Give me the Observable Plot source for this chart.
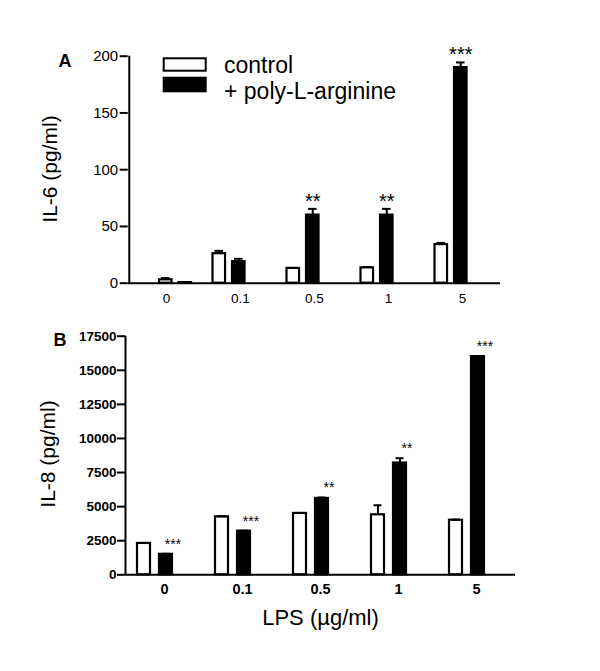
<!DOCTYPE html>
<html>
<head>
<meta charset="utf-8">
<script src="https://cdn.jsdelivr.net/npm/d3@7"></script>
<script src="https://cdn.jsdelivr.net/npm/@observablehq/plot@0.6"></script>
<style>
  body { margin: 0; background: #fff; }
  #fig { position: relative; width: 600px; height: 671px; background: #fff; overflow: hidden; }
  #fig > svg { position: absolute; left: 0; }
</style>
</head>
<body>
<div id="fig"></div>
<script>
// ---------- data ----------
const doses = ["0", "0.1", "0.5", "1", "5"];
const seriesNames = ["control", "+ poly-L-arginine"];

const il6Control    = [3, 26, 13, 13.5, 34];
const il6ControlErr = [1.5, 2.5, 0.5, 0.8, 1.5];
const il6Poly       = [0.5, 19, 60, 60, 190];
const il6PolyErr    = [0, 2.5, 5.5, 5.5, 4.5];
const il6Stars      = ["", "", "**", "**", "***"];
const il6Ticks      = [0, 50, 100, 150, 200];

const il8Control    = [2300, 4250, 4500, 4400, 4000];
const il8ControlErr = [40, 40, 40, 700, 50];
const il8Poly       = [1500, 3200, 5600, 8200, 16000];
const il8PolyErr    = [40, 40, 70, 350, 50];
const il8Stars      = ["***", "***", "**", "**", "***"];
const il8Ticks      = [0, 2500, 5000, 7500, 10000, 12500, 15000, 17500];

const titleA = "IL-6 (pg/ml)";
const titleB = "IL-8 (pg/ml)";
const titleX = "LPS (\u00b5g/ml)";

const FONT = '"Liberation Sans", Arial, Helvetica, sans-serif';

// ---------- panel builder ----------
function panel(cfg) {
  const rows = doses.flatMap((d, i) => [
    {dose: d, i, series: seriesNames[0], value: cfg.control[i], err: cfg.controlErr[i], star: ""},
    {dose: d, i, series: seriesNames[1], value: cfg.poly[i], err: cfg.polyErr[i], star: cfg.stars[i]}
  ]);
  const bw = (cfg.width - cfg.marginLeft - cfg.marginRight) / doses.length;
  const marks = [];
  for (const r of rows) {
    const isCtrl = r.series === seriesNames[0];
    const left = (isCtrl ? cfg.ctrlLeft : cfg.polyLeft) + (r.i === 0 ? cfg.firstShift : 0);
    const right = bw - left - cfg.barW;
    const center = left + cfg.barW / 2;
    marks.push(Plot.barY([r], {
      x: "dose", y: "value", insetLeft: left, insetRight: right,
      fill: isCtrl ? "white" : "black", stroke: "black", strokeWidth: 2.2
    }));
    if (r.err > 0) {
      marks.push(Plot.ruleX([r], {x: "dose", y1: "value", y2: d => d.value + d.err, dx: center - bw / 2, strokeWidth: 2}));
      marks.push(Plot.tickY([r], {x: "dose", y: d => d.value + d.err,
        insetLeft: center - cfg.capW / 2, insetRight: bw - center - cfg.capW / 2, strokeWidth: 2}));
    }
    if (r.star) {
      marks.push(Plot.text([r], {x: "dose", y: d => d.value + d.err, text: "star",
        dx: center - bw / 2 + cfg.starDx, dy: cfg.starDy, lineAnchor: "bottom",
        fontSize: cfg.starSize, fill: "black"}));
    }
  }
  return Plot.plot({
    width: cfg.width, height: cfg.height,
    marginLeft: cfg.marginLeft, marginRight: cfg.marginRight,
    marginTop: cfg.marginTop, marginBottom: cfg.marginBottom,
    style: {fontFamily: FONT, color: "black", background: "transparent", overflow: "visible"},
    x: {type: "band", domain: doses, padding: 0},
    y: {domain: [0, cfg.yMax], nice: false},
    marks: [
      ...marks,
      Plot.ruleY([0], {strokeWidth: 2}),
      Plot.ruleX([doses[0]], {dx: -bw / 2, strokeWidth: 2}),
      Plot.axisY({ticks: cfg.ticks, tickSize: 8, tickPadding: cfg.yPad, label: null,
        tickFormat: d => String(d), fontSize: cfg.yFont, fontWeight: cfg.weight, strokeWidth: 2}),
      Plot.axisX({tickSize: 0, tickPadding: cfg.xPad, label: null,
        fontSize: cfg.xFont, fontWeight: cfg.weight})
    ]
  });
}

const fig = document.getElementById("fig");

const plotA = panel({
  control: il6Control, controlErr: il6ControlErr, poly: il6Poly, polyErr: il6PolyErr,
  stars: il6Stars, ticks: il6Ticks, yMax: 200,
  width: 600, height: 320, marginLeft: 127.7, marginRight: 100, marginTop: 55.7, marginBottom: 37.3,
  ctrlLeft: 9.5, polyLeft: 29, barW: 13, firstShift: 20.5, capW: 9,
  starDx: 0, starDy: -1, starSize: 20,
  yFont: 15, xFont: 13.5, weight: "normal", yPad: 2, xPad: 10
});
plotA.style.top = "0px";
fig.appendChild(plotA);

const plotB = panel({
  control: il8Control, controlErr: il8ControlErr, poly: il8Poly, polyErr: il8PolyErr,
  stars: il8Stars, ticks: il8Ticks, yMax: 17500,
  width: 600, height: 351, marginLeft: 125, marginRight: 85, marginTop: 15.7, marginBottom: 96.7,
  ctrlLeft: 12, polyLeft: 34, barW: 13, firstShift: 0, capW: 8,
  starDx: 7, starDy: -5, starSize: 14,
  yFont: 13.5, xFont: 14.5, weight: "bold", yPad: 1, xPad: 9
});
plotB.style.top = "320px";
fig.appendChild(plotB);

// ---------- overlay: panel letters, axis titles, legend ----------
const ov = d3.select(fig).append("svg")
  .attr("width", 600).attr("height", 671)
  .style("top", "0px").style("pointer-events", "none")
  .style("font-family", FONT);

ov.append("text").attr("x", 65).attr("y", 66.7).attr("text-anchor", "middle")
  .attr("font-size", 18).attr("font-weight", "bold").text("A");
ov.append("text").attr("x", 60).attr("y", 346).attr("text-anchor", "middle")
  .attr("font-size", 18).attr("font-weight", "bold").text("B");

ov.append("text").attr("transform", "translate(56.7,169) rotate(-90)")
  .attr("text-anchor", "middle").attr("font-size", 21).text(titleA);
ov.append("text").attr("transform", "translate(55,454) rotate(-90)")
  .attr("text-anchor", "middle").attr("font-size", 21).text(titleB);

ov.append("text").attr("x", 320.5).attr("y", 625).attr("text-anchor", "middle")
  .attr("font-size", 22).text(titleX);

// legend
ov.append("rect").attr("x", 163.7).attr("y", 58.3).attr("width", 42).attr("height", 12.4)
  .attr("fill", "white").attr("stroke", "black").attr("stroke-width", 2);
ov.append("rect").attr("x", 162.7).attr("y", 76.7).attr("width", 44).attr("height", 15.6)
  .attr("fill", "black");
ov.append("text").attr("x", 224).attr("y", 73.3).attr("font-size", 23).text(seriesNames[0]);
ov.append("text").attr("x", 224).attr("y", 99.3).attr("font-size", 23).text(seriesNames[1]);
</script>
</body>
</html>
